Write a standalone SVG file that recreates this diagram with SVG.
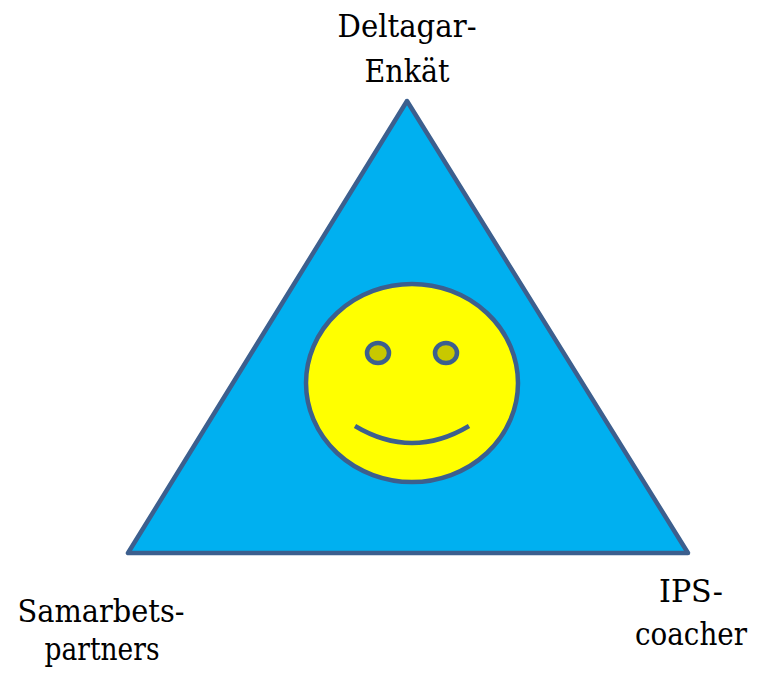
<svg xmlns="http://www.w3.org/2000/svg" width="767" height="673" viewBox="0 0 767 673">
<style>
.lbl{font-family:'DejaVu Serif',serif;font-size:32px;fill:#000;text-anchor:middle}
.ln{stroke:#3C5F8E;stroke-width:4.5;stroke-linejoin:round}
</style>
<rect width="767" height="673" fill="#fff"/>
<g id="triangle">
<polygon class="ln" points="407,101 128,553 688,553" fill="#00B0F0"/>
</g>
<g id="face">
<ellipse class="ln" cx="412" cy="383" rx="106" ry="99" fill="#FFFF00"/>
<ellipse class="ln" cx="378" cy="353" rx="11" ry="10" fill="#C8C800"/>
<ellipse class="ln" cx="446" cy="353" rx="11" ry="10" fill="#C8C800"/>
<path class="ln" d="M355,426 Q412,460 469,426" fill="none" stroke-linecap="butt"/>
</g>
<g id="label-top">
<text class="lbl" x="407" y="37" textLength="139" lengthAdjust="spacingAndGlyphs">Deltagar-</text>
<text class="lbl" x="407" y="82" textLength="85" lengthAdjust="spacingAndGlyphs">Enkät</text>
</g>
<g id="label-left">
<text class="lbl" x="101" y="622" textLength="167" lengthAdjust="spacingAndGlyphs">Samarbets-</text>
<text class="lbl" x="102" y="660" textLength="115" lengthAdjust="spacingAndGlyphs">partners</text>
</g>
<g id="label-right">
<text class="lbl" x="691" y="602" textLength="64" lengthAdjust="spacingAndGlyphs">IPS-</text>
<text class="lbl" x="691" y="645" textLength="112" lengthAdjust="spacingAndGlyphs">coacher</text>
</g>
<g id="connectors"/>
</svg>
